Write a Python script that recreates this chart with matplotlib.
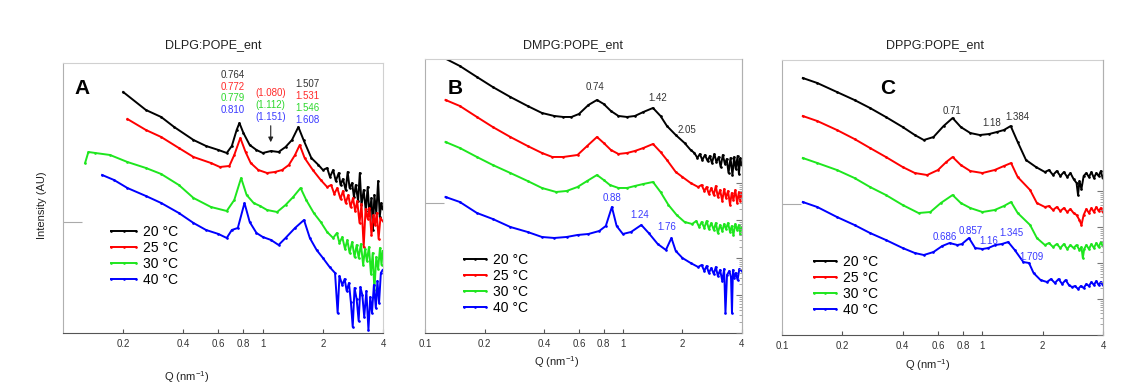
import matplotlib
matplotlib.use("Agg")
import matplotlib.pyplot as plt
import numpy as np
from matplotlib.ticker import FixedLocator, NullFormatter, NullLocator

plt.rcParams["font.family"] = ["Liberation Sans", "DejaVu Sans"]
plt.rcParams["mathtext.default"] = "regular"

# y values are log intensity in arbitrary units (curves are offset vertically)
LABELS = ["20 °C", "25 °C", "30 °C", "40 °C"]
COLORS = ["#000000", "#ff0000", "#1ee61e", "#0000ff"]

# ---- panel A: DLPG:POPE_ent ----
q_a20 = [0.20, 0.26, 0.31, 0.36, 0.45, 0.52, 0.60, 0.66, 0.70, 0.74, 0.764, 0.80, 0.86, 0.93, 1.0, 1.1,
         1.2, 1.3, 1.4, 1.507, 1.6, 1.75, 1.9, 2.0, 2.1, 2.17, 2.25, 2.32, 2.4, 2.45, 2.52, 2.6, 2.66,
         2.72, 2.8, 2.86, 2.92, 3.0, 3.06, 3.12, 3.2, 3.28, 3.35, 3.42, 3.5, 3.56, 3.62, 3.7, 3.78, 3.85,
         3.92, 3.98]
i_a20 = [24.1, 22.3, 21.6, 20.6, 19.3, 18.7, 18.3, 18.0, 18.7, 20.3, 21.0, 20.0, 18.8, 18.3, 18.0, 18.2,
         18.1, 18.6, 19.3, 20.6, 19.3, 17.5, 16.8, 16.3, 16.5, 15.6, 16.3, 15.2, 16.0, 14.8, 15.4, 14.3, 16.1,
         14.5, 15.0, 13.6, 14.8, 13.2, 16.0, 12.8, 14.3, 12.2, 14.6, 11.8, 13.5, 10.3, 13.8, 12.0, 15.2, 11.6,
         13.0, 12.4]
q_a25 = [0.21, 0.26, 0.31, 0.38, 0.45, 0.55, 0.61, 0.68, 0.72, 0.772, 0.82, 0.87, 0.95, 1.05, 1.15, 1.25,
         1.35, 1.45, 1.531, 1.62, 1.78, 1.95, 2.1, 2.2, 2.28, 2.36, 2.45, 2.52, 2.6, 2.68, 2.75, 2.83, 2.9,
         2.97, 3.05, 3.12, 3.2, 3.27, 3.35, 3.42, 3.5, 3.58, 3.65, 3.72, 3.8, 3.88, 3.98]
i_a25 = [21.4, 20.3, 19.6, 18.5, 17.6, 17.0, 16.6, 16.7, 17.8, 19.5, 18.1, 17.0, 16.3, 16.0, 16.1, 16.3,
         16.8, 17.8, 18.8, 17.5, 16.3, 15.3, 14.6, 14.8, 13.9, 14.5, 13.4, 14.2, 13.0, 13.8, 12.6, 13.5, 12.2,
         13.2, 11.0, 12.9, 8.6, 12.4, 11.4, 12.5, 9.8, 11.8, 10.8, 12.0, 9.4, 11.5, 11.2]
q_a30 = [0.129, 0.134, 0.145, 0.172, 0.21, 0.26, 0.31, 0.38, 0.45, 0.55, 0.66, 0.72, 0.779, 0.83, 0.9,
         0.97, 1.05, 1.18, 1.3, 1.42, 1.546, 1.65, 1.8, 1.95, 2.1, 2.25, 2.35, 2.42, 2.5, 2.58, 2.65, 2.72,
         2.8, 2.88, 2.95, 3.02, 3.1, 3.18, 3.25, 3.32, 3.4, 3.48, 3.55, 3.62, 3.7, 3.78, 3.86, 3.93, 3.98]
i_a30 = [17.0, 18.1, 18.0, 17.8, 17.1, 16.5, 15.9, 14.8, 13.5, 12.6, 12.2, 13.3, 15.5, 13.8, 13.0,
         12.7, 12.3, 12.1, 12.8, 13.6, 14.5, 13.3, 12.0, 11.1, 10.1, 9.5, 10.0, 9.0, 9.6, 8.4, 9.3, 8.0,
         9.1, 7.6, 8.8, 7.5, 8.9, 6.8, 8.4, 7.2, 8.6, 5.9, 8.0, 4.3, 7.6, 6.4, 8.5, 6.8, 8.2]
q_a40 = [0.157, 0.18, 0.21, 0.26, 0.31, 0.38, 0.45, 0.52, 0.6, 0.66, 0.7, 0.75, 0.81, 0.86, 0.93, 1.0,
         1.1, 1.2, 1.3, 1.45, 1.608, 1.72, 1.86, 2.0, 2.16, 2.3, 2.37, 2.42, 2.5, 2.57, 2.63, 2.7, 2.76,
         2.82, 2.88, 2.95, 3.02, 3.08, 3.15, 3.22, 3.3, 3.38, 3.45, 3.52, 3.6, 3.68, 3.75, 3.82, 3.9, 3.98]
i_a40 = [15.8, 15.3, 14.5, 13.7, 13.0, 12.0, 11.0, 10.3, 9.9, 9.5, 10.3, 10.5, 13.0, 11.1, 10.0, 9.6,
         9.3, 8.8, 9.5, 10.5, 11.3, 9.5, 8.3, 7.5, 6.6, 6.0, 2.0, 5.7, 4.8, 5.4, 4.2, 5.0, 3.1,
         0.6, 4.5, 3.4, 1.2, 4.6, 3.8, 1.6, 4.2, 0.3, 3.6, 2.0, 4.8, 2.5, 5.2, 3.0, 6.0, 6.3]

# ---- panel B: DMPG:POPE_ent ----
q_b20 = [0.125, 0.15, 0.183, 0.22, 0.27, 0.33, 0.39, 0.45, 0.5, 0.55, 0.6, 0.67, 0.74, 0.8, 0.87, 0.95,
         1.05, 1.15, 1.27, 1.42, 1.55, 1.67, 1.85, 2.05, 2.2, 2.3, 2.38, 2.45, 2.52, 2.6, 2.68, 2.75, 2.82,
         2.9, 2.97, 3.05, 3.12, 3.2, 3.28, 3.35, 3.42, 3.5, 3.58, 3.65, 3.72, 3.8, 3.86, 3.92, 3.98]
i_b20 = [27.5, 26.7, 25.6, 24.6, 23.6, 22.7, 22.0, 21.7, 21.6, 21.6, 21.9, 22.8, 23.3, 22.9, 22.2, 21.7,
         21.6, 21.7, 22.1, 22.5, 21.7, 20.7, 19.8, 19.0, 18.3, 18.0, 17.5, 17.9, 17.3, 17.8, 17.2, 17.7, 17.0,
         17.9, 17.1, 17.6, 16.6, 17.8, 16.9, 17.4, 16.0, 17.5, 15.8, 17.6, 16.4, 17.7, 15.9, 17.5, 16.8]
q_b25 = [0.127, 0.15, 0.183, 0.22, 0.27, 0.33, 0.39, 0.44, 0.5, 0.59, 0.66, 0.74, 0.8, 0.87, 0.95, 1.05,
         1.15, 1.27, 1.42, 1.55, 1.67, 1.85, 2.0, 2.2, 2.4, 2.5, 2.58, 2.65, 2.72, 2.8, 2.88, 2.95, 3.02,
         3.1, 3.18, 3.25, 3.32, 3.4, 3.48, 3.55, 3.62, 3.7, 3.78, 3.86, 3.92, 3.98]
i_b25 = [23.3, 22.7, 21.6, 20.6, 19.6, 18.7, 18.0, 17.6, 17.6, 17.8, 18.7, 19.6, 19.0, 18.3, 17.9, 18.0,
         18.2, 18.5, 18.9, 18.1, 17.3, 16.1, 15.6, 15.0, 14.6, 14.8, 14.2, 14.6, 13.9, 14.5, 13.8, 14.7, 13.6,
         14.3, 13.2, 14.4, 13.5, 14.2, 12.8, 14.0, 13.3, 14.3, 13.0, 14.1, 13.2, 14.0]
q_b30 = [0.127, 0.15, 0.183, 0.22, 0.27, 0.33, 0.39, 0.46, 0.52, 0.59, 0.66, 0.74, 0.8, 0.86, 0.95, 1.05,
         1.15, 1.27, 1.42, 1.55, 1.7, 1.87, 2.05, 2.24, 2.35, 2.43, 2.5, 2.58, 2.65, 2.72, 2.8, 2.88, 2.95,
         3.02, 3.1, 3.18, 3.25, 3.32, 3.4, 3.48, 3.55, 3.62, 3.7, 3.78, 3.86, 3.92, 3.98]
i_b30 = [19.1, 18.5, 17.6, 16.8, 16.0, 15.2, 14.5, 14.1, 14.2, 14.6, 15.2, 15.8, 15.3, 14.8, 14.5, 14.5,
         14.7, 14.9, 15.1, 14.1, 12.8, 11.8, 11.1, 10.9, 11.2, 10.6, 11.1, 10.5, 11.2, 10.4, 11.0, 10.3, 11.0,
         10.0, 10.8, 10.2, 10.9, 10.4, 11.0, 10.1, 10.7, 9.8, 10.9, 10.3, 10.8, 9.9, 10.6]
q_b40 = [0.127, 0.15, 0.183, 0.22, 0.27, 0.33, 0.39, 0.45, 0.52, 0.59, 0.67, 0.76, 0.82, 0.88, 0.93, 1.0,
         1.1, 1.24, 1.35, 1.5, 1.65, 1.76, 1.85, 2.0, 2.2, 2.4, 2.5, 2.58, 2.65, 2.72, 2.8, 2.88, 2.95,
         3.02, 3.1, 3.18, 3.25, 3.3, 3.36, 3.45, 3.52, 3.56, 3.6, 3.66, 3.72, 3.8, 3.88, 3.98]
i_b40 = [13.6, 13.1, 12.0, 11.4, 10.6, 10.1, 9.6, 9.5, 9.6, 9.8, 9.9, 10.2, 10.7, 12.6, 10.7, 9.9,
         10.1, 10.8, 10.0, 8.9, 8.3, 9.5, 8.2, 7.5, 7.0, 6.6, 6.8, 6.2, 6.7, 6.0, 6.5, 5.9, 6.6,
         5.7, 6.3, 5.2, 6.4, 2.0, 5.8, 6.2, 5.6, 2.0, 6.3, 5.5, 6.0, 5.3, 6.4, 6.2]

# ---- panel C: DPPG:POPE_ent ----
q_c20 = [0.127, 0.15, 0.188, 0.23, 0.275, 0.33, 0.4, 0.46, 0.51, 0.57, 0.64, 0.71, 0.78, 0.87, 0.97,
         1.08, 1.18, 1.28, 1.384, 1.5, 1.65, 1.85, 2.05, 2.15, 2.25, 2.35, 2.45, 2.55, 2.65, 2.75, 2.85,
         2.95, 3.0, 3.05, 3.12, 3.2, 3.3, 3.4, 3.5, 3.6, 3.7, 3.8, 3.9, 3.98]
i_c20 = [25.7, 25.2, 24.3, 23.5, 22.7, 21.8, 20.8, 20.0, 19.5, 19.8, 20.9, 21.7, 20.8, 20.2, 20.0,
         20.1, 20.3, 20.5, 20.9, 19.3, 17.5, 16.8, 16.3, 16.5, 16.0, 16.4, 15.9, 16.3, 15.8, 16.2, 15.6,
         15.2, 14.0, 15.4, 14.6, 15.9, 16.2, 15.8, 16.3, 15.7, 16.2, 15.9, 16.4, 15.7]
q_c25 = [0.127, 0.15, 0.188, 0.23, 0.275, 0.33, 0.4, 0.46, 0.53, 0.6, 0.66, 0.71, 0.78, 0.87, 1.0, 1.15,
         1.28, 1.39, 1.5, 1.73, 1.87, 2.05, 2.15, 2.25, 2.35, 2.45, 2.55, 2.65, 2.75, 2.85, 2.95, 3.05,
         3.12, 3.2, 3.3, 3.4, 3.5, 3.6, 3.7, 3.8, 3.9, 3.98]
i_c25 = [21.9, 21.4, 20.5, 19.6, 18.7, 17.8, 16.8, 16.2, 16.0, 16.5, 17.3, 17.8, 17.0, 16.4, 16.2, 16.5,
         16.9, 17.2, 15.8, 14.5, 13.2, 12.8, 12.9, 12.5, 12.8, 12.4, 12.7, 12.3, 12.6, 12.2, 12.0, 11.5,
         11.0, 12.0, 12.6, 12.2, 12.7, 12.3, 12.8, 12.4, 12.7, 12.3]
q_c30 = [0.127, 0.15, 0.188, 0.23, 0.275, 0.33, 0.4, 0.48, 0.55, 0.62, 0.71, 0.78, 0.87, 1.0, 1.15, 1.28,
         1.39, 1.5, 1.73, 1.87, 2.05, 2.15, 2.25, 2.35, 2.45, 2.55, 2.65, 2.75, 2.85, 2.95, 3.05, 3.12,
         3.17, 3.22, 3.3, 3.4, 3.5, 3.6, 3.7, 3.8, 3.9, 3.98]
i_c30 = [17.7, 17.2, 16.5, 15.7, 14.8, 14.0, 13.0, 12.2, 12.3, 13.2, 14.0, 13.2, 12.7, 12.3, 12.5, 12.9,
         13.3, 12.2, 11.0, 9.7, 9.0, 9.2, 8.8, 9.1, 8.7, 9.1, 8.6, 9.0, 8.7, 9.0, 8.5, 8.8,
         7.7, 8.6, 9.0, 8.6, 9.1, 8.7, 9.2, 8.8, 9.3, 8.9]
q_c40 = [0.127, 0.15, 0.188, 0.23, 0.275, 0.33, 0.4, 0.46, 0.51, 0.57, 0.63, 0.686, 0.75, 0.79, 0.857,
         0.92, 1.0, 1.07, 1.16, 1.25, 1.345, 1.45, 1.6, 1.709, 1.8, 1.95, 2.1, 2.2, 2.3, 2.4, 2.5, 2.6,
         2.7, 2.8, 2.9, 3.0, 3.1, 3.2, 3.3, 3.4, 3.5, 3.6, 3.7, 3.8, 3.9, 3.98]
i_c40 = [13.3, 12.8, 11.8, 11.0, 10.2, 9.5, 8.7, 8.2, 8.0, 8.3, 8.9, 9.2, 9.0, 9.1, 9.7,
         8.7, 8.6, 8.7, 9.0, 9.1, 9.3, 8.5, 7.3, 7.2, 6.2, 5.5, 5.3, 5.6, 5.2, 5.6, 5.1, 5.5,
         5.0, 4.8, 4.9, 4.6, 4.9, 4.7, 5.1, 4.9, 5.3, 5.0, 5.4, 5.0, 5.3, 5.0]

# peak annotations: (text, colour index, Q, y)
notes_a = [("0.764", 0, 0.708, 25.8), ("0.772", 1, 0.708, 24.6), ("0.779", 2, 0.708, 23.5),
           ("0.810", 3, 0.708, 22.3), ("(1.080)", 1, 1.096, 24.0), ("(1.112)", 2, 1.096, 22.8),
           ("(1.151)", 3, 1.096, 21.6), ("1.507", 0, 1.68, 24.9), ("1.531", 1, 1.68, 23.7),
           ("1.546", 2, 1.68, 22.5), ("1.608", 3, 1.68, 21.3)]
notes_b = [("0.74", 0, 0.722, 24.6), ("1.42", 0, 1.50, 23.5), ("2.05", 0, 2.10, 20.3),
           ("0.88", 3, 0.88, 13.5), ("1.24", 3, 1.22, 11.8), ("1.76", 3, 1.67, 10.6)]
notes_c = [("0.71", 0, 0.706, 22.4), ("1.18", 0, 1.11, 21.2), ("1.384", 0, 1.49, 21.8),
           ("0.686", 3, 0.652, 9.8), ("0.857", 3, 0.869, 10.4), ("1.16", 3, 1.07, 9.4),
           ("1.345", 3, 1.40, 10.2), ("1.709", 3, 1.76, 7.8)]
NOTE_COLORS = ["#333333", "#ff2a2a", "#2ed82e", "#3a3aff"]

XTICKS = [0.1, 0.2, 0.4, 0.6, 0.8, 1, 2, 4]
XTICKLABELS = ["0.1", "0.2", "0.4", "0.6", "0.8", "1", "2", "4"]


def draw_panel(ax, curves, notes, title, letter, ymax, ytick, show_01,
               letter_xy, title_xy, xlabel_xy, legend_xy, handlelength):
    for (q, i), color, label in zip(curves, COLORS, LABELS):
        ax.plot(q, i, color=color, lw=1.4, marker=".", ms=1.8, label=label)
    ax.set_xscale("log")
    ax.set_xlim(0.1, 4)
    ax.set_ylim(0, ymax)
    ticks = XTICKS if show_01 else XTICKS[1:]
    labels = XTICKLABELS if show_01 else XTICKLABELS[1:]
    ax.xaxis.set_major_locator(FixedLocator(ticks))
    ax.set_xticklabels(labels)
    ax.xaxis.set_minor_locator(NullLocator())
    ax.xaxis.set_minor_formatter(NullFormatter())
    ax.tick_params(axis="x", direction="in", length=3, labelsize=7, colors="#555555",
                   labelcolor="#333333", pad=4)
    ax.set_yticks([ytick])
    ax.set_yticklabels([])
    ax.tick_params(axis="y", direction="in", length=14, color="#aaaaaa", width=0.8)
    for side in ["top", "right"]:
        ax.spines[side].set_color("#d0d0d0")
    ax.spines["left"].set_color("#b0b0b0")
    ax.spines["bottom"].set_color("#555555")

    for text, ci, x, y in notes:
        ax.text(x, y, text, color=NOTE_COLORS[ci], fontsize=7, ha="center", va="center")

    ax.text(letter_xy[0], letter_xy[1], letter, transform=ax.transAxes, fontsize=15,
            fontweight="bold", ha="center", va="center")
    ax.text(title_xy[0], title_xy[1], title, transform=ax.transAxes, fontsize=9,
            ha="center", va="center", color="#222222")
    ax.text(xlabel_xy[0], xlabel_xy[1], "Q (nm$^{-1}$)", transform=ax.transAxes,
            fontsize=8, ha="center", va="center", color="#222222")
    ax.legend(loc="upper left", bbox_to_anchor=legend_xy, frameon=False, fontsize=10,
              handlelength=handlelength, handletextpad=0.2, labelspacing=0.15,
              borderpad=0, borderaxespad=0, numpoints=3, markerscale=1.0)


def add_right_log_ticks(ax, decades, px_per_decade, px_height):
    twin = ax.twinx()
    twin.set_yscale("log")
    twin.set_ylim(1, 10 ** (px_height / px_per_decade))
    majors = [10.0 ** d for d in range(decades + 1)]
    minors = [k * 10.0 ** d for d in range(decades) for k in range(2, 10)]
    twin.yaxis.set_major_locator(FixedLocator(majors))
    twin.yaxis.set_minor_locator(FixedLocator(minors))
    twin.yaxis.set_major_formatter(NullFormatter())
    twin.yaxis.set_minor_formatter(NullFormatter())
    twin.tick_params(axis="y", which="major", direction="in", length=4, color="#777777")
    twin.tick_params(axis="y", which="minor", direction="in", length=2, color="#999999")
    for side in ["top", "left", "bottom"]:
        twin.spines[side].set_visible(False)
    twin.spines["right"].set_color("#b0b0b0")


def main() -> None:
    fig = plt.figure(figsize=(11.21, 3.90), dpi=100)
    ax_a = fig.add_axes([0.0562, 0.1462, 0.2855, 0.6923])
    ax_b = fig.add_axes([0.3791, 0.1462, 0.2828, 0.7026])
    ax_c = fig.add_axes([0.6976, 0.1410, 0.2864, 0.7051])

    draw_panel(ax_a, [(q_a20, i_a20), (q_a25, i_a25), (q_a30, i_a30), (q_a40, i_a40)], notes_a,
               "DLPG:POPE_ent", "A", 27.0, 11.1, False,
               (0.06, 0.904), (0.469, 1.067), (0.3875, -0.163), (0.1375, 0.40), 2.4)
    draw_panel(ax_b, [(q_b20, i_b20), (q_b25, i_b25), (q_b30, i_b30), (q_b40, i_b40)], notes_b,
               "DMPG:POPE_ent", "B", 27.4, 13.0, True,
               (0.095, 0.894), (0.467, 1.051), (0.416, -0.106), (0.11, 0.292), 2.2)
    draw_panel(ax_c, [(q_c20, i_c20), (q_c25, i_c25), (q_c30, i_c30), (q_c40, i_c40)], notes_c,
               "DPPG:POPE_ent", "C", 27.5, 13.1, True,
               (0.33, 0.895), (0.477, 1.055), (0.455, -0.109), (0.087, 0.291), 2.2)

    # arrow marking the weak (1.080)/(1.112)/(1.151) feature in panel A
    ax_a.annotate("", xy=(1.096, 18.8), xytext=(1.096, 21.0),
                  arrowprops=dict(arrowstyle="-|>", color="#222222", lw=0.8, mutation_scale=7))

    add_right_log_ticks(ax_b, 4, 37.5, 274)
    add_right_log_ticks(ax_c, 4, 36.0, 275)

    fig.text(42 / 1121, 1 - 205 / 390, "Intensity (AU)", rotation=90, fontsize=8,
             ha="center", va="center", color="#222222")

    fig.savefig("out.png", dpi=100)
    plt.close(fig)


if __name__ == "__main__":
    main()
